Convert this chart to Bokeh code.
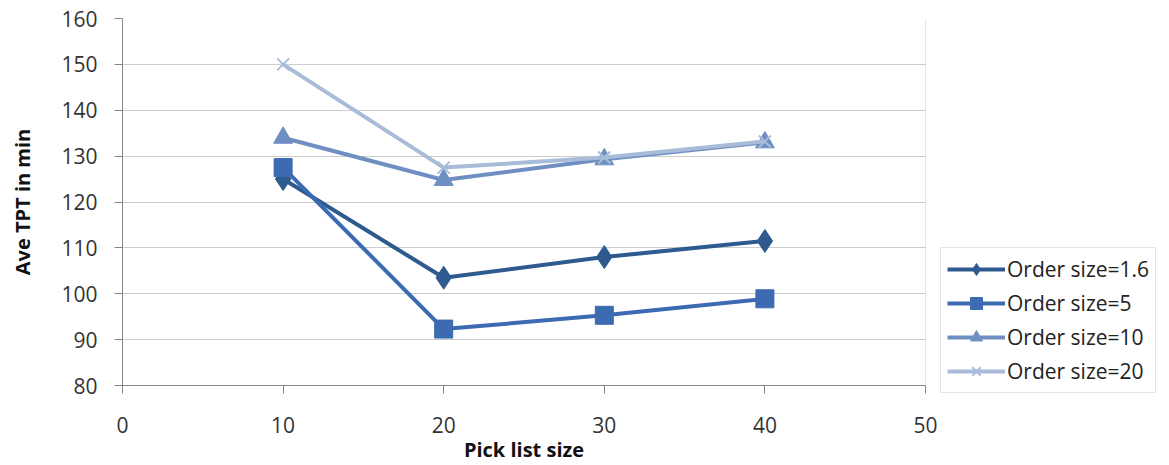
from bokeh.plotting import figure
from bokeh.models import Legend, LegendItem, Span, FixedTicker
from bokeh.embed import file_html
from bokeh.resources import INLINE

pick_list_size = [10, 20, 30, 40]
order_16 = [125.0, 103.5, 108.0, 111.5]
order_5 = [127.5, 92.3, 95.3, 98.9]
order_10 = [134.0, 124.8, 129.3, 133.0]
order_20 = [150.0, 127.5, 129.7, 133.2]

series_names = ["Order size=1.6", "Order size=5", "Order size=10", "Order size=20"]
x_ticks = [0, 10, 20, 30, 40, 50]
y_ticks = [80, 90, 100, 110, 120, 130, 140, 150, 160]

FONT = "Open Sans"

p = figure(frame_width=803, frame_height=367, output_backend="svg", toolbar_location=None,
           x_range=(0, 50), y_range=(80, 160),
           min_border_left=122, min_border_right=0, min_border_top=18, min_border_bottom=77)
p.outline_line_color = None
p.background_fill_color = "white"
p.border_fill_color = "white"

p.xgrid.grid_line_color = None
p.ygrid.grid_line_color = "#999999"
p.ygrid.grid_line_dash = "1 1"
p.ygrid.grid_line_width = 1

p.xaxis.ticker = FixedTicker(ticks=x_ticks)
p.yaxis.ticker = FixedTicker(ticks=y_ticks)
for ax in (p.xaxis, p.yaxis):
    ax.axis_line_color = "#868686"
    ax.major_tick_line_color = "#868686"
    ax.major_tick_out = 8
    ax.major_tick_in = 0
    ax.minor_tick_line_color = None
    ax.major_label_text_font = FONT
    ax.major_label_text_font_size = "21px"
    ax.major_label_text_color = "#333333"
    ax.axis_label_text_font = FONT
    ax.axis_label_text_font_size = "20px"
    ax.axis_label_text_font_style = "bold"
    ax.axis_label_text_color = "#111111"

p.xaxis.axis_label = "Pick list size"
p.yaxis.axis_label = "Ave TPT in min"
p.xaxis.major_label_standoff = 23
p.xaxis.axis_label_standoff = 0
p.yaxis.major_label_standoff = 17
p.yaxis.axis_label_standoff = 22

p.add_layout(Span(location=50, dimension="height", line_color="#cfcfcf", line_width=1))

colors = ["#2f5a8f", "#3c6bb1", "#6f8fc2", "#a8bbd8"]
markers = ["diamond", "square", "triangle", "x"]
sizes = [23, 18, 19, 17]
data = [order_16, order_5, order_10, order_20]

items = []
for name, ys, c, m, s in zip(series_names, data, colors, markers, sizes):
    l = p.line(pick_list_size, ys, line_color=c, line_width=4)
    kw = dict(marker=m, size=s, line_color=c, fill_color=c)
    if m == "x":
        kw["line_width"] = 2
    sc = p.scatter(pick_list_size, ys, **kw)
    items.append(LegendItem(label=name, renderers=[l, sc]))

legend = Legend(items=items, location=(15, -8))
legend.label_text_font = FONT
legend.label_text_font_size = "21px"
legend.label_text_color = "#222222"
legend.glyph_width = 58
legend.glyph_height = 30
legend.label_standoff = 2
legend.spacing = 4
legend.padding = 6
legend.margin = 0
legend.border_line_color = "#c8c8c8"
legend.border_line_width = 1
legend.background_fill_color = "white"
p.add_layout(legend, "right")

open("out.html", "w").write(file_html(p, INLINE))
